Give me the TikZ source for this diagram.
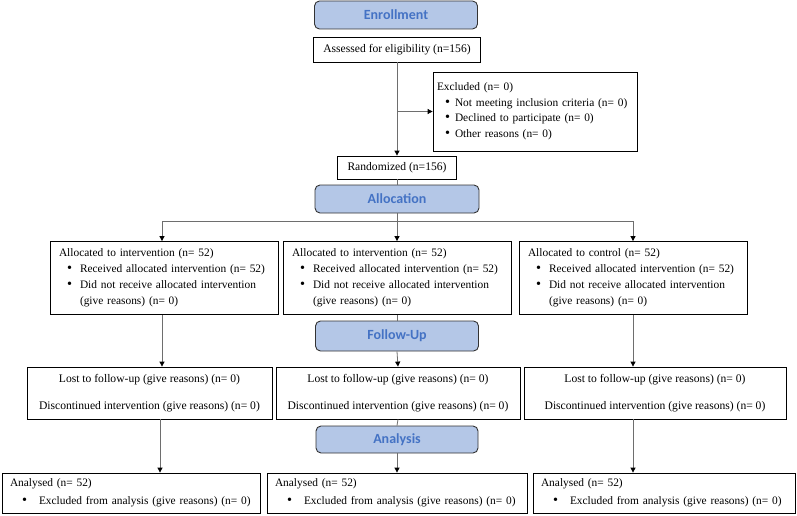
\documentclass[tikz,border=0pt]{standalone}
\usepackage{fontspec}
\setmainfont{Liberation Serif}
\newfontfamily\titlefont{Carlito}
\usetikzlibrary{arrows.meta}
\definecolor{titleblue}{RGB}{68,114,196}
\definecolor{titlefill}{RGB}{180,199,231}
\definecolor{linegray}{RGB}{110,110,110}
\newcommand{\bul}[1]{\makebox[#1][l]{\scalebox{1.25}{\textbullet}}}
\begin{document}
\begin{tikzpicture}[x=1pt,y=-1pt,
  titlebox/.style={draw=black!80, fill=titlefill, rounded corners=5pt, line width=0.9pt,
    font=\titlefont\bfseries\fontsize{14}{16}\selectfont, text=titleblue, inner sep=0pt},
  plainbox/.style={draw=black, line width=0.8pt, inner sep=0pt, font=\fontsize{11.6}{13}\selectfont},
  listbox/.style={draw=black, line width=0.8pt, inner ysep=0pt, align=left},
  conn/.style={draw=linegray, line width=0.8pt},
  arr/.style={conn, -{Triangle[length=5pt,width=5pt,color=black]}},
]
\useasboundingbox (0,0) rectangle (797,516);

% titles
\node[titlebox, minimum width=163pt, minimum height=28pt] (enr) at (396,15) {Enrollment};
\node[titlebox, minimum width=164pt, minimum height=28pt] (alloc) at (397,199) {Allocation};
\node[titlebox, minimum width=163pt, minimum height=30pt] (fu) at (397,336) {Follow-Up};
\node[titlebox, minimum width=162pt, minimum height=27pt] (ana) at (397,439.5) {Analysis};

% simple boxes
\node[plainbox, minimum width=167pt, minimum height=25pt] (assess) at (397,49.5) {Assessed for eligibility (n=156)};
\node[plainbox, minimum width=119pt, minimum height=23pt] (rand) at (397,167.5) {Randomized (n=156)};

% excluded
\node[listbox, inner xsep=4pt, text width=196pt, minimum height=79pt,
  font=\fontsize{11.4}{15.5}\selectfont] (excl) at (535,111.5)
  {Excluded (n= 0)\\
   \hspace*{8pt}\bul{10pt}Not meeting inclusion criteria (n= 0)\\
   \hspace*{8pt}\bul{10pt}Declined to participate (n= 0)\\
   \hspace*{8pt}\bul{10pt}Other reasons (n= 0)};

% allocated
\tikzset{allocbox/.style={listbox, inner xsep=9pt, text width=210pt, minimum height=73pt,
  font=\fontsize{11.4}{16}\selectfont}}
\node[allocbox] (allocL) at (164,278)
  {Allocated to intervention (n= 52)\\
   \hspace*{8pt}\bul{13pt}\mbox{Received allocated intervention (n= 52)}\\
   \hspace*{8pt}\bul{13pt}Did not receive allocated intervention\\
   \hspace*{21pt}(give reasons) (n= 0)};
\node[allocbox] (allocM) at (397,278)
  {Allocated to intervention (n= 52)\\
   \hspace*{8pt}\bul{13pt}\mbox{Received allocated intervention (n= 52)}\\
   \hspace*{8pt}\bul{13pt}Did not receive allocated intervention\\
   \hspace*{21pt}(give reasons) (n= 0)};
\node[allocbox] (allocR) at (633,278)
  {Allocated to control (n= 52)\\
   \hspace*{8pt}\bul{13pt}\mbox{Received allocated intervention (n= 52)}\\
   \hspace*{8pt}\bul{13pt}Did not receive allocated intervention\\
   \hspace*{21pt}(give reasons) (n= 0)};

% lost to follow-up
\tikzset{lostbox/.style={draw=black, line width=0.8pt, inner sep=0pt, align=center,
  minimum height=52pt, font=\fontsize{11.6}{27}\selectfont}}
\node[lostbox, minimum width=245pt] (lostL) at (149.5,393)
  {Lost to follow-up (give reasons) (n= 0)\\Discontinued intervention (give reasons) (n= 0)};
\node[lostbox, minimum width=244pt] (lostM) at (398,393)
  {Lost to follow-up (give reasons) (n= 0)\\Discontinued intervention (give reasons) (n= 0)};
\node[lostbox, minimum width=262pt] (lostR) at (655,393)
  {Lost to follow-up (give reasons) (n= 0)\\Discontinued intervention (give reasons) (n= 0)};

% analysed
\tikzset{anabox/.style={listbox, inner xsep=8pt, minimum height=40pt,
  font=\fontsize{11.4}{18}\selectfont}}
\node[anabox, text width=242pt] (anaL) at (131,493)
  {Analysed (n= 52)\\
   \hspace*{12pt}\bul{17pt}\mbox{Excluded from analysis (give reasons) (n= 0)}};
\node[anabox, text width=244pt] (anaM) at (397,493)
  {Analysed (n= 52)\\
   \hspace*{12pt}\bul{17pt}\mbox{Excluded from analysis (give reasons) (n= 0)}};
\node[anabox, text width=246pt] (anaR) at (664,493)
  {Analysed (n= 52)\\
   \hspace*{12pt}\bul{17pt}\mbox{Excluded from analysis (give reasons) (n= 0)}};

% connectors
\draw[arr] (assess.south) -- (rand.north);
\coordinate (brk) at (assess.south |- excl.west);
\draw[arr] (brk) -- (excl.west);
\draw[conn] (rand.south) -- (alloc.north);
\coordinate (hub) at (397,221);
\coordinate (hl) at (162,221);
\coordinate (hr) at (633,221);
\draw[conn] (alloc.south) -- (hub);
\draw[conn] (hl) -- (hr);
\draw[arr] (hub) -- (allocM.north);
\draw[arr] (hl) -- (hl |- allocL.north);
\draw[arr] (hr) -- (allocR.north);
\coordinate (l1) at (hl |- allocL.south);
\draw[arr] (l1) -- (l1 |- lostL.north);
\draw[arr] (allocR.south) -- (allocR.south |- lostR.north);
\draw[conn] (allocM.south) -- (fu.north);
\draw[arr] (fu.south) -- (lostM.north);
\coordinate (l2) at (160,0);
\draw[arr] (l2 |- lostL.south) -- (l2 |- anaL.north);
\draw[arr] (allocR.south |- lostR.south) -- (allocR.south |- anaR.north);
\draw[conn] (lostM.south) -- (ana.north);
\draw[arr] (ana.south) -- (anaM.north);
\end{tikzpicture}
\end{document}
